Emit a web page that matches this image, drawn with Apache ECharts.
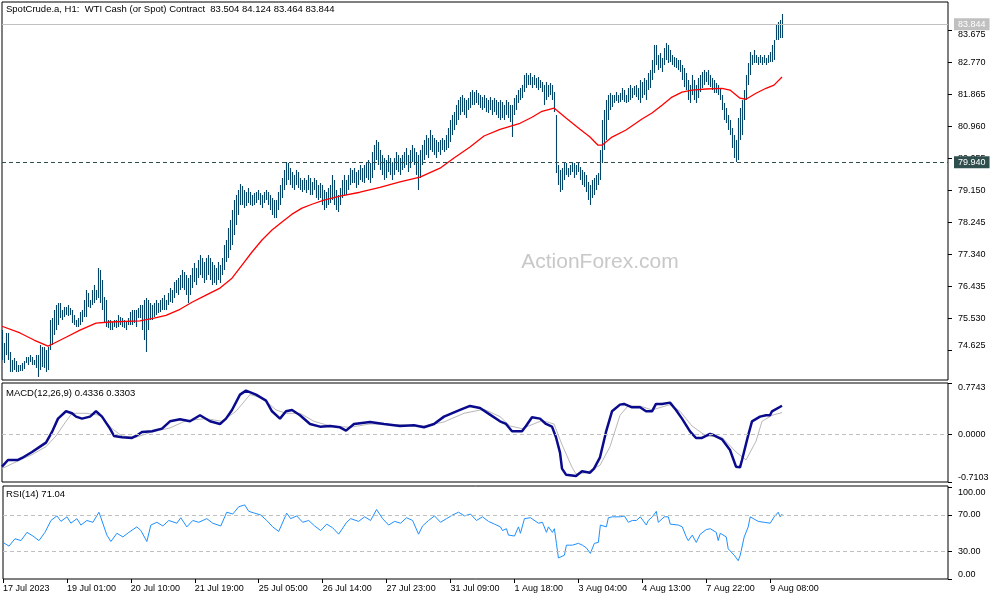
<!DOCTYPE html>
<html><head><meta charset="utf-8">
<script src="https://cdn.jsdelivr.net/npm/echarts@6/dist/echarts.min.js"></script>
<style>html,body{margin:0;padding:0;background:#fff}#c{width:1000px;height:600px}</style>
</head><body><div id="c"></div>
<script>
// ---- tick labels ----
const xLabels = ['17 Jul 2023','19 Jul 01:00','20 Jul 10:00','21 Jul 19:00','25 Jul 05:00','26 Jul 14:00','27 Jul 23:00','31 Jul 09:00','1 Aug 18:00','3 Aug 04:00','4 Aug 13:00','7 Aug 22:00','9 Aug 08:00'];
const xLabelIdx = [0,32,64,96,128,160,192,224,256,288,320,352,384];
const priceTicks = [74.625,75.530,76.435,77.340,78.245,79.150,80.055,80.960,81.865,82.770,83.675];
const macdTicks = [-0.7103, 0, 0.7743];
const rsiTicks = [0, 30, 70, 100];

// ---- price bars (H1) ----
const highs = [
75.19,74.82,75.11,75.11,74.57,74.34,74.40,74.31,74.20,74.20,
74.26,74.31,74.43,74.43,74.48,74.43,74.34,74.48,74.48,74.77,
74.71,74.71,74.63,74.71,75.47,75.53,75.76,75.90,75.95,75.95,
75.76,75.84,75.84,75.90,75.81,75.76,75.61,75.47,75.53,75.70,
75.76,76.04,76.32,76.24,76.04,76.32,76.46,76.32,76.94,76.89,
76.60,76.12,76.04,75.47,75.47,75.42,75.47,75.47,75.61,75.56,
75.53,75.47,75.42,75.53,75.70,75.76,75.76,75.76,75.81,75.90,
75.90,76.04,76.10,76.04,75.95,75.90,75.95,76.04,75.95,76.04,
76.10,76.18,76.04,76.24,76.38,76.32,76.55,76.60,76.66,76.75,
76.89,76.83,76.75,76.66,76.75,76.94,77.09,76.94,77.17,77.31,
77.23,77.11,77.23,77.31,77.23,77.11,77.03,76.94,77.11,77.03,
77.23,77.59,77.74,78.08,78.30,78.58,78.87,79.01,79.15,79.32,
79.26,79.15,79.09,79.21,79.09,79.01,79.07,79.09,79.15,79.07,
79.01,79.09,79.15,79.09,79.01,78.92,78.87,78.87,79.09,79.29,
79.49,79.72,79.94,79.91,79.77,79.66,79.57,79.72,79.66,79.49,
79.43,79.49,79.43,79.57,79.49,79.38,79.49,79.43,79.29,79.35,
79.29,79.15,79.09,79.21,79.29,79.57,79.43,79.15,79.01,79.21,
79.43,79.57,79.43,79.57,79.77,79.72,79.77,79.66,79.72,79.86,
79.77,79.86,79.94,80.00,79.91,80.22,80.42,80.56,80.51,80.28,
80.14,80.06,80.00,80.14,80.06,79.94,80.06,80.22,80.14,80.06,
80.14,80.22,80.34,80.14,80.28,80.42,80.34,80.22,80.14,80.28,
80.42,80.56,80.71,80.62,80.85,80.71,80.62,80.56,80.51,80.56,
80.62,80.56,80.71,80.90,81.13,81.27,81.36,81.55,81.70,81.78,
81.84,81.75,81.70,81.75,81.92,81.98,81.92,81.98,81.89,81.84,
81.78,81.84,81.75,81.70,81.78,81.70,81.75,81.70,81.64,81.70,
81.64,81.55,81.70,81.64,81.55,81.55,81.75,81.84,81.98,82.03,
82.12,82.40,82.46,82.40,82.46,82.35,82.40,82.32,82.35,82.26,
82.20,82.12,82.20,82.12,82.18,82.12,81.92,81.27,79.86,79.72,
79.77,79.91,79.91,79.77,79.86,79.94,79.91,79.86,79.94,79.80,
79.72,79.66,79.57,79.38,79.29,79.43,79.49,79.57,79.63,80.28,
81.13,81.41,81.70,81.84,81.89,81.84,81.84,81.92,81.84,81.89,
82.03,81.98,81.84,82.03,82.12,82.03,82.09,82.12,82.03,82.26,
82.20,82.32,82.26,82.46,82.54,82.83,83.25,83.25,82.97,83.02,
82.88,83.17,83.31,83.25,83.11,82.97,82.91,82.88,82.83,82.83,
82.68,82.60,82.46,82.26,82.12,82.40,82.26,82.12,82.32,82.40,
82.49,82.54,82.49,82.54,82.40,82.32,82.26,82.18,82.12,82.03,
81.84,81.61,81.47,81.27,81.13,80.90,80.71,80.56,81.19,81.47,
81.70,81.98,82.40,82.74,83.05,82.97,83.11,82.97,82.91,82.97,
82.91,82.97,82.88,82.97,83.05,83.25,83.39,83.82,83.90,83.96,
84.124];
const lows = [
74.34,74.26,74.48,74.34,74.00,74.00,74.06,74.00,74.00,74.03,
74.03,74.09,74.26,74.20,74.29,74.20,74.20,74.12,73.86,74.06,
74.14,74.12,74.00,74.06,74.63,74.77,75.05,75.19,75.33,75.53,
75.47,75.56,75.61,75.59,75.61,75.39,75.33,75.28,75.28,75.33,
75.42,75.56,75.56,75.84,75.81,75.90,75.95,76.04,76.10,75.95,
75.76,75.42,75.28,75.25,75.19,75.19,75.28,75.25,75.28,75.33,
75.28,75.25,75.19,75.33,75.33,75.33,75.39,75.28,75.53,75.53,
75.19,74.91,74.57,75.19,75.47,75.47,75.56,75.61,75.67,75.70,
75.76,75.76,75.76,75.90,75.98,75.95,76.10,76.24,76.18,76.32,
76.38,76.32,76.18,75.95,76.18,76.38,76.55,76.46,76.66,76.75,
76.66,76.52,76.60,76.75,76.60,76.46,76.52,76.46,76.60,76.52,
76.75,76.89,77.11,77.23,77.45,77.59,77.88,78.16,78.44,78.73,
78.73,78.64,78.70,78.78,78.73,78.70,78.73,78.78,78.87,78.73,
78.64,78.78,78.87,78.73,78.58,78.44,78.36,78.36,78.58,78.73,
78.92,79.15,79.29,79.43,79.29,79.21,79.15,79.29,79.21,79.15,
79.09,79.15,79.07,79.15,79.01,79.01,79.15,78.92,78.87,78.92,
78.73,78.58,78.64,78.73,78.78,78.87,78.73,78.58,78.53,78.73,
78.92,79.01,79.01,79.15,79.29,79.35,79.35,79.21,79.29,79.43,
79.38,79.35,79.49,79.43,79.35,79.49,79.72,80.00,79.86,79.72,
79.57,79.43,79.49,79.66,79.57,79.43,79.57,79.72,79.66,79.57,
79.72,79.77,79.86,79.66,79.77,79.94,79.86,79.57,79.15,79.49,
79.86,80.00,80.14,80.06,80.28,80.22,80.14,80.06,80.22,80.14,
80.28,80.22,80.28,80.34,80.51,80.71,80.85,80.99,81.13,81.27,
81.36,81.27,81.19,81.41,81.47,81.55,81.55,81.61,81.55,81.47,
81.41,81.47,81.36,81.33,81.41,81.27,81.36,81.27,81.19,81.13,
81.19,81.13,81.27,81.19,81.07,80.65,81.27,81.41,81.61,81.70,
81.75,81.92,82.03,82.12,82.12,82.03,82.12,82.03,81.98,82.03,
81.92,81.55,81.70,81.78,81.84,81.70,81.36,79.63,79.29,79.09,
79.15,79.43,79.57,79.52,79.57,79.66,79.49,79.57,79.66,79.43,
79.29,79.23,79.09,78.87,78.73,78.92,79.01,79.15,79.29,79.43,
79.91,80.28,80.56,81.13,81.41,81.50,81.61,81.67,81.61,81.64,
81.70,81.64,81.61,81.64,81.70,81.75,81.84,81.78,81.70,81.61,
81.75,81.84,81.70,81.98,82.03,82.26,82.46,82.68,82.54,82.60,
82.49,82.68,82.83,82.74,82.77,82.68,82.63,82.60,82.54,82.49,
82.26,82.06,81.98,81.70,81.61,81.84,81.70,81.61,81.75,81.92,
82.03,82.12,82.20,82.12,82.06,81.98,81.89,81.89,81.84,81.70,
81.41,81.13,81.04,80.85,80.71,80.34,80.06,79.94,80.00,80.56,
80.71,81.13,81.70,82.12,82.40,82.68,82.74,82.74,82.68,82.74,
82.68,82.74,82.68,82.74,82.77,82.77,82.83,83.39,83.39,83.45,
83.464];

// ---- moving average (sampled bars) ----
const maIdx = [0,9,16,23,26,32,39,47,54,69,76,82,89,95,101,109,115,120,125,130,135,140,145,150,155,161,169,179,189,199,209,219,226,234,241,249,259,265,270,276,282,289,294,298,300,305,312,320,325,330,335,340,345,352,360,364,369,372,377,382,386,390];
const maVal = [75.30,75.11,74.91,74.74,74.82,74.99,75.19,75.39,75.42,75.45,75.53,75.61,75.78,75.98,76.15,76.38,76.66,77.03,77.40,77.74,78.02,78.25,78.47,78.64,78.75,78.87,78.98,79.09,79.23,79.38,79.52,79.77,80.06,80.37,80.68,80.87,81.04,81.21,81.38,81.47,81.19,80.87,80.65,80.42,80.42,80.65,80.85,81.16,81.33,81.55,81.78,81.92,81.98,82.01,82.03,81.98,81.75,81.72,81.89,82.03,82.12,82.35];

// ---- MACD(12,26,9) ----
const macdIdx = [0,3,8,10,15,19,22,25,28,32,35,37,40,44,47,50,54,56,60,65,67,70,75,80,84,89,94,99,104,109,112,115,119,122,127,132,135,139,142,145,149,154,159,164,169,172,176,184,191,199,206,211,216,221,229,234,239,244,249,252,255,260,262,265,269,272,275,277,279,280,282,287,290,294,296,299,302,305,309,311,315,319,322,325,327,330,334,337,340,344,347,350,354,356,360,364,367,369,370,373,375,379,382,384,385,390];
const macdVal = [-0.48,-0.38,-0.38,-0.35,-0.26,-0.18,-0.12,0.04,0.24,0.35,0.32,0.27,0.24,0.27,0.35,0.27,0.09,-0.02,-0.04,-0.05,-0.02,0.04,0.05,0.09,0.20,0.23,0.20,0.29,0.20,0.16,0.24,0.37,0.60,0.66,0.60,0.51,0.35,0.24,0.35,0.37,0.29,0.16,0.12,0.13,0.11,0.06,0.16,0.19,0.16,0.13,0.14,0.11,0.16,0.27,0.37,0.43,0.40,0.30,0.20,0.16,0.05,0.05,0.13,0.26,0.24,0.16,0.12,-0.04,-0.27,-0.51,-0.60,-0.62,-0.55,-0.57,-0.51,-0.34,0.04,0.35,0.45,0.46,0.41,0.41,0.35,0.35,0.46,0.46,0.48,0.37,0.24,0.05,-0.05,-0.05,0.01,-0.01,-0.07,-0.23,-0.48,-0.49,-0.38,-0.02,0.20,0.27,0.29,0.29,0.35,0.4336];
const sigIdx = [0,9,15,22,27,32,35,42,49,55,60,67,75,84,92,102,110,117,124,130,137,142,149,156,164,174,184,199,211,221,231,241,249,254,260,270,276,280,285,287,292,299,304,309,313,319,325,334,339,345,352,360,367,372,377,380,385,390];
const sigVal = [-0.51,-0.38,-0.30,-0.18,-0.02,0.20,0.32,0.32,0.29,0.09,-0.02,-0.04,0.04,0.10,0.21,0.24,0.20,0.35,0.60,0.55,0.37,0.32,0.32,0.20,0.13,0.11,0.16,0.15,0.13,0.19,0.32,0.38,0.27,0.13,0.09,0.21,0.16,-0.15,-0.49,-0.59,-0.57,-0.46,-0.18,0.29,0.43,0.43,0.37,0.45,0.35,0.13,-0.02,-0.04,-0.26,-0.38,-0.10,0.20,0.29,0.3303];

// ---- RSI(14) ----
const rsiIdx = [0,3,6,9,12,15,18,21,24,27,29,32,34,37,39,42,45,48,49,52,54,57,60,63,67,69,72,74,77,80,83,87,89,92,95,98,102,105,109,112,115,118,121,123,126,129,132,135,138,142,144,147,150,153,156,159,162,165,168,172,174,178,181,184,187,190,193,196,199,202,205,208,210,213,216,219,222,225,228,231,234,237,240,243,246,249,250,252,253,256,258,259,261,262,264,265,268,270,272,273,275,276,277,278,279,281,282,283,285,288,290,292,294,296,298,299,300,302,303,305,309,311,313,315,317,319,322,323,325,327,328,331,333,334,338,340,342,343,345,347,349,352,354,357,358,359,362,363,366,368,369,371,373,374,378,381,384,386,388,389,390];
const rsiVal = [40,36,44,42,51,47,42,51,64,69,63,68,61,66,59,64,62,73,67,48,41,50,46,51,57,53,41,59,62,58,64,61,67,57,64,62,66,61,58,73,71,79,81,74,72,70,64,57,52,72,66,69,62,64,58,53,60,56,49,62,66,63,68,64,76,66,59,63,61,67,64,49,58,64,69,62,66,70,73,69,71,64,68,63,60,57,53,55,48,47,57,50,66,68,67,69,61,62,51,57,51,55,39,23,22,26,37,36,37,39,37,34,28,39,40,59,61,57,67,68,68,69,62,64,64,68,59,64,68,74,62,68,68,60,59,57,46,42,48,40,49,54,55,51,42,50,46,33,26,20,26,46,57,68,63,62,61,68,73,68,71.04];

const lastPrice = 83.844;
const supportLevel = 79.940;
const titleMain = 'SpotCrude.a, H1:  WTI Cash (or Spot) Contract  83.504 84.124 83.464 83.844';
const titleMacd = 'MACD(12,26,9) 0.4336 0.3303';
const titleRsi = 'RSI(14) 71.04';

const FONT = "'Liberation Sans','DejaVu Sans',sans-serif";
const AXFS = 9;
const pairs = (ix, vs) => ix.map((x, k) => [x, vs[k]]);
const bars = highs.map((h, i) => [i, h, lows[i]]);

const chart = echarts.init(document.getElementById('c'), null, {renderer: 'canvas'});
const gridBase = {left: 2, width: 946, show: true, borderColor: '#000', borderWidth: 1, backgroundColor: 'transparent'};
const xBase = (k) => ({
  type: 'value', gridIndex: k, min: 0, max: 473, position: 'bottom',
  axisLine: {show: false, onZero: false}, splitLine: {show: false},
  axisTick: k === 2 ? {show: true, customValues: xLabelIdx, length: 4, lineStyle: {color: '#000'}} : {show: false},
  axisLabel: k === 2 ? {show: true, customValues: xLabelIdx, formatter: v => xLabels[xLabelIdx.indexOf(v)] || '', align: 'left', margin: 5, fontSize: AXFS, fontFamily: FONT, color: '#000'} : {show: false}
});
const yBase = (k, mn, mx, ticks, dec) => ({
  type: 'value', gridIndex: k, position: 'right', min: mn, max: mx,
  axisLine: {show: false, onZero: false}, splitLine: {show: false},
  axisTick: {show: true, customValues: ticks, length: 4, lineStyle: {color: '#000'}},
  axisLabel: {show: true, customValues: ticks, formatter: v => v.toFixed(dec), margin: 10, fontSize: AXFS, fontFamily: FONT, color: '#000',
    verticalAlignMinLabel: 'bottom', verticalAlignMaxLabel: 'top'}
});

chart.setOption({
  animation: false,
  backgroundColor: '#fff',
  grid: [
    Object.assign({top: 2, height: 378}, gridBase),
    Object.assign({top: 383, height: 99}, gridBase),
    Object.assign({top: 486, height: 93}, gridBase)
  ],
  xAxis: [xBase(0), xBase(1), xBase(2)],
  yAxis: [
    yBase(0, 73.78, 84.47, priceTicks, 3),
    yBase(1, -0.7103, 0.7743, macdTicks, 4),
    yBase(2, 0, 101.7, rsiTicks, 2)
  ],
  graphic: [
    {type: 'text', left: 6, top: 4, style: {text: titleMain, font: '9.5px ' + FONT, fill: '#000'}},
    {type: 'text', left: 6, top: 388, style: {text: titleMacd, font: '9.5px ' + FONT, fill: '#000'}},
    {type: 'text', left: 6, top: 489, style: {text: titleRsi, font: '9.5px ' + FONT, fill: '#000'}},
    {type: 'text', x: 600, y: 262, z: -10, style: {text: 'ActionForex.com', font: '21px "Liberation Sans", sans-serif', fill: '#c8c8c8', align: 'center', verticalAlign: 'middle'}}
  ],
  series: [
    {
      type: 'custom', xAxisIndex: 0, yAxisIndex: 0, clip: true, silent: true,
      data: bars, encode: {x: 0, y: [1, 2]},
      renderItem: (params, api) => {
        const a = api.coord([api.value(0), api.value(1)]);
        const b = api.coord([api.value(0), api.value(2)]);
        const x = Math.round(a[0]) + 0.5;
        return {type: 'line', shape: {x1: x, y1: Math.round(a[1]), x2: x, y2: Math.max(Math.round(b[1]), Math.round(a[1]) + 1)},
          style: {stroke: '#064568', lineWidth: 1.1}};
      }
    },
    {
      type: 'line', xAxisIndex: 0, yAxisIndex: 0, data: pairs(maIdx, maVal), showSymbol: false, symbol: 'none',
      lineStyle: {color: '#ff0000', width: 1.3}, silent: true,
      markLine: {silent: true, symbol: ['none', 'none'], animation: false,
        data: [
          {yAxis: lastPrice, lineStyle: {color: '#c0c0c0', type: 'solid', width: 1},
            label: {position: 'end', distance: 6, formatter: lastPrice.toFixed(3), color: '#fff', backgroundColor: '#c0c0c0', padding: [2, 4, 1, 4], fontSize: AXFS, fontFamily: FONT}},
          {yAxis: supportLevel, lineStyle: {color: '#2f4f4f', type: [4, 3], width: 1},
            label: {position: 'end', distance: 6, formatter: supportLevel.toFixed(3), color: '#fff', backgroundColor: '#2f4f4f', padding: [2, 4, 1, 4], fontSize: AXFS, fontFamily: FONT}}
        ]}
    },
    {
      type: 'line', xAxisIndex: 1, yAxisIndex: 1, data: pairs(sigIdx, sigVal), symbol: 'none', silent: true,
      lineStyle: {color: '#b8b8b8', width: 1},
      markLine: {silent: true, symbol: ['none', 'none'], label: {show: false},
        data: [{yAxis: 0}], lineStyle: {color: '#c0c0c0', type: [4, 3], width: 1}}
    },
    {
      type: 'line', xAxisIndex: 1, yAxisIndex: 1, data: pairs(macdIdx, macdVal), symbol: 'none', silent: true,
      lineStyle: {color: '#0a0a8c', width: 2.5}
    },
    {
      type: 'line', xAxisIndex: 2, yAxisIndex: 2, data: pairs(rsiIdx, rsiVal), symbol: 'none', silent: true,
      lineStyle: {color: '#1e90ff', width: 1},
      markLine: {silent: true, symbol: ['none', 'none'], label: {show: false},
        data: [{yAxis: 70}, {yAxis: 30}], lineStyle: {color: '#c0c0c0', type: [4, 3], width: 1}}
    }
  ]
});
</script></body></html>
